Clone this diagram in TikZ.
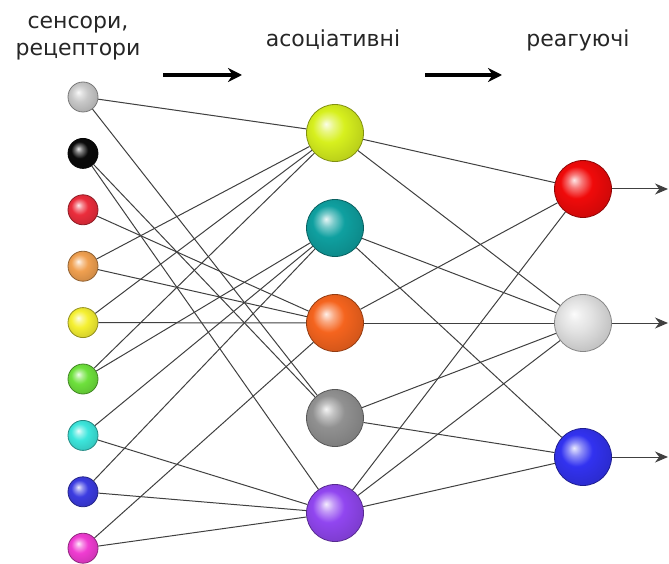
\documentclass[tikz,border=0pt]{standalone}
\usepackage{fontspec}
\setmainfont{DejaVu Sans}
\usetikzlibrary{arrows.meta}
\definecolor{sgrey}{RGB}{200,200,200}
\definecolor{sblack}{RGB}{10,10,10}
\definecolor{sred}{RGB}{235,45,60}
\definecolor{sorange}{RGB}{240,160,80}
\definecolor{syellow}{RGB}{245,240,50}
\definecolor{sgreen}{RGB}{110,225,60}
\definecolor{scyan}{RGB}{60,230,220}
\definecolor{sblue}{RGB}{60,60,225}
\definecolor{spink}{RGB}{240,60,210}
\definecolor{alime}{RGB}{215,240,30}
\definecolor{ateal}{RGB}{15,160,160}
\definecolor{aorange}{RGB}{245,100,30}
\definecolor{agrey}{RGB}{145,145,145}
\definecolor{apurple}{RGB}{145,70,240}
\definecolor{rred}{RGB}{240,10,10}
\definecolor{rgrey}{RGB}{225,225,225}
\definecolor{rblue}{RGB}{50,50,240}
\colorlet{spherecol}{white}
\pgfdeclareradialshading[spherecol]{sphere}{\pgfqpoint{-8bp}{8bp}}{%
  color(0bp)=(spherecol!10!white);
  color(6bp)=(spherecol!55!white);
  color(14bp)=(spherecol);
  color(27bp)=(spherecol!88!black);
  color(50bp)=(spherecol!70!black)}

\begin{document}
\begin{tikzpicture}[x=1pt,y=-1pt,font=\fontsize{22}{27}\selectfont,>=Stealth,
  inp/.style={circle,minimum size=30pt,inner sep=0pt,
              /utils/exec={\colorlet{spherecol}{#1}},shading=sphere,
              draw=#1!60!black,line width=0.8pt},
  cell/.style={inp=#1,minimum size=57pt},
  link/.style={draw=black!75,line width=1pt}]
\useasboundingbox (0,0) rectangle (669,564);
% layer titles
\node[align=center,text=black!85] (tsens) at (78,38) {сенсори,\\рецептори};
\node[text=black!85] (tassoc) at (333,40) {асоціативні};
\node[text=black!85] (treact) at (578,40) {реагуючі};
\coordinate (h1) at (163,75);
\coordinate (h2) at (242,75);
\coordinate (h3) at (425,75);
\coordinate (h4) at (502,75);
\draw[line width=3.5pt,-{Stealth[length=14pt,width=14pt]}] (h1) -- (h2);
\draw[line width=3.5pt,-{Stealth[length=14pt,width=14pt]}] (h3) -- (h4);
% sensors
\foreach \c [count=\i] in {sgrey,sblack,sred,sorange,syellow,sgreen,scyan,sblue,spink}
  \node[inp=\c] (s\i) at (83,{97+56.4*(\i-1)}) {};
% associative cells
\foreach \c [count=\i] in {alime,ateal,aorange,agrey,apurple}
  \node[cell=\c] (a\i) at (335,{133+95*(\i-1)}) {};
% reacting cells
\foreach \c [count=\i] in {rred,rgrey,rblue} {
  \node[cell=\c] (r\i) at (583,{189+134*(\i-1)}) {};
  \coordinate (o\i) at (668,{189+134*(\i-1)});
}
% links
\foreach \a/\b in {s1/a1,s1/a4,s2/a4,s2/a5,s3/a3,s4/a1,s4/a3,s5/a1,s5/a3,
                   s6/a1,s6/a2,s7/a2,s7/a5,s8/a2,s8/a5,s9/a3,s9/a5,
                   a1/r1,a1/r2,a2/r2,a2/r3,a3/r1,a3/r2,a4/r2,a4/r3,
                   a5/r1,a5/r2,a5/r3}
  \draw[link] (\a) -- (\b);
\foreach \i in {1,2,3}
  \draw[link,-{Stealth[length=13pt,width=11pt]}] (r\i) -- (o\i);
\end{tikzpicture}
\end{document}
